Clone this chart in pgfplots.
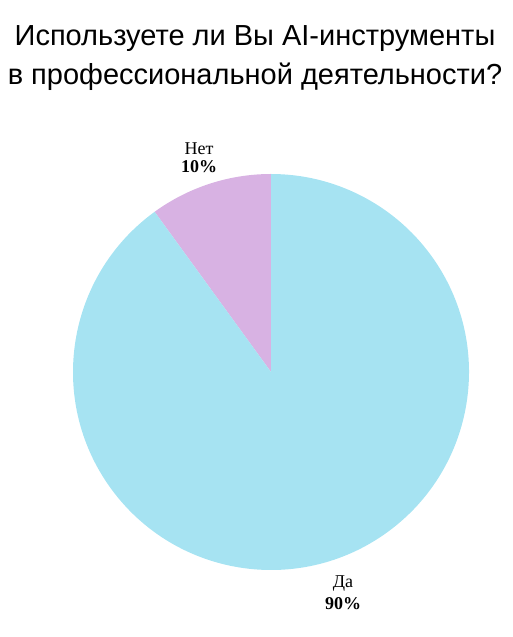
\documentclass[border=0pt]{standalone}
\usepackage{pgfplots}
\usepackage{pgfplotstable}
\pgfplotsset{compat=1.18}
\usepackage{fontspec}
\setmainfont{Liberation Serif}
\newfontfamily\titlefont{Liberation Sans}
\definecolor{da}{HTML}{A6E3F2}
\definecolor{net}{HTML}{D8B2E3}
\pgfplotstableread{
idx value
0 90
1 10
}\piedata
\pgfplotstablegetelem{0}{value}\of\piedata \let\vda\pgfplotsretval
\pgfplotstablegetelem{1}{value}\of\piedata \let\vnet\pgfplotsretval
\pgfmathsetmacro\anet{90+\vnet*3.6}
\begin{document}
\begin{tikzpicture}
\begin{axis}[x=1pt,y=1pt,xmin=0,xmax=513,ymin=0,ymax=637,hide axis,clip=false]
\path (axis cs:0,0) rectangle (axis cs:513,637);
\fill[net] (axis cs:271,265) -- (axis cs:271,463) arc[start angle=90, end angle=\anet, radius=198pt] -- cycle;
\fill[da] (axis cs:271,265) -- ++(\anet:198pt) arc[start angle=\anet, end angle=450, radius=198pt] -- cycle;
\node[align=center, font=\fontsize{18}{18}\selectfont] at (axis cs:199,479) {Нет\\\textbf{\vnet\%}};
\node[align=center, font=\fontsize{18}{22}\selectfont] at (axis cs:343,44) {Да\\\textbf{\vda\%}};
\node[align=center, font=\titlefont\fontsize{29}{39}\selectfont] at (axis cs:255,579) {Используете ли Вы AI-инструменты\\в профессиональной деятельности?};
\end{axis}
\end{tikzpicture}
\end{document}
